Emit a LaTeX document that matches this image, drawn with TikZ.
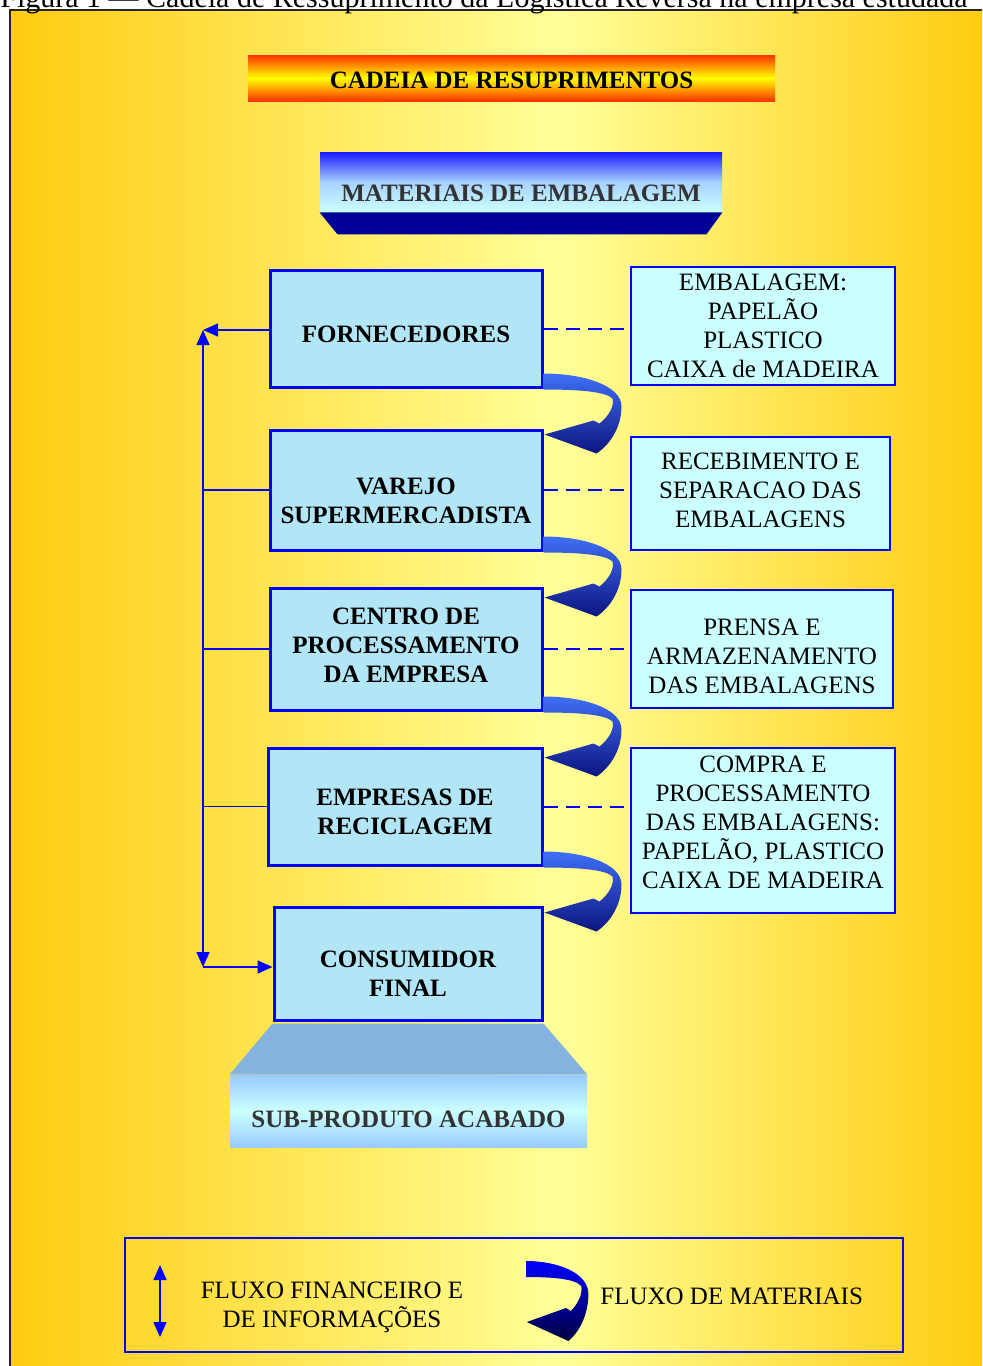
\documentclass[tikz,border=0pt]{standalone}
\usepackage{fontspec}
\setmainfont{Liberation Serif}
\usetikzlibrary{positioning,arrows.meta,calc,shadows}
\definecolor{frameo}{HTML}{FFCC11}
\definecolor{framey}{HTML}{FFFF99}
\definecolor{bord}{HTML}{0000FF}
\definecolor{boxfill}{HTML}{B2E6F6}
\definecolor{sidefill}{HTML}{CCFFFF}
\definecolor{titred}{HTML}{FF3300}
\definecolor{titylw}{HTML}{FFFF00}
\definecolor{matblu}{HTML}{1A1AFF}
\definecolor{matcyan}{HTML}{CCFFFF}
\definecolor{matnavy}{HTML}{000099}
\definecolor{subtrap}{HTML}{86B2E0}
\definecolor{subblu}{HTML}{99CCFF}
\definecolor{flowtop}{HTML}{3F6FF6}
\definecolor{flowbot}{HTML}{0D1580}
\definecolor{legtop}{HTML}{0000FF}
\definecolor{legbot}{HTML}{000040}
\definecolor{txtgray}{HTML}{333333}
\tikzset{
  mainblk/.style={draw=bord, line width=1.5pt, fill=boxfill, minimum width=136pt,
    drop shadow={fill=matnavy, shadow xshift=1pt, shadow yshift=-1pt, opacity=1}},
  sideblk/.style={draw=bord, line width=1pt, fill=sidefill},
  mlbl/.style={font=\fontsize{12.5}{14.5}\selectfont\bfseries, align=center, inner sep=0pt},
  slbl/.style={font=\fontsize{12.5}{14.5}\selectfont, align=center, inner sep=0pt},
  banner/.style={top color=titred, bottom color=titred, middle color=titylw, inner sep=0pt,
    minimum width=263.5pt, minimum height=23pt},
  matblk/.style={top color=matblu, bottom color=matcyan, middle color=matcyan!80!matblu,
    inner sep=0pt, minimum width=201pt, minimum height=30pt},
  subblk/.style={top color=subblu, bottom color=subblu, middle color=matcyan,
    inner sep=0pt, minimum width=178.5pt, minimum height=36pt},
  fintip/.tip={Triangle[length=7.5pt,width=6.5pt]},
  arr/.style={-fintip, bord, line width=0.8pt},
  finln/.style={bord, line width=0.8pt},
  dashln/.style={bord, line width=1pt, dash pattern=on 7pt off 4pt},
  mfshade/.style={top color=flowtop, bottom color=flowbot},
  pics/matflow/.style={code={
    \shade[mfshade] (0,0) .. controls (40,0) and (78,12) .. (78,33)
      .. controls (78,52) and (68,70) .. (53,80) -- (1,61) -- (50,47) -- (56,50)
      .. controls (66,42) and (71,32) .. (69,25) .. controls (62,18) and (35,16) .. (0,16) -- cycle;
  }},
}
\begin{document}
\begin{tikzpicture}[x=0.5pt, y=-0.5pt]
  \useasboundingbox (0,0) rectangle (982,1366);
  \clip (0,0) rectangle (982,1366);
  % background and frame
  \fill[white] (0,0) rectangle (982,1366);
  \shade[left color=frameo, right color=framey] (10,10) rectangle (560,1366);
  \shade[left color=framey, right color=frameo] (560,10) rectangle (982,1366);
  \draw[line width=1pt, black!85] (10,1366) -- (10,10) -- (982,10);
  \node[anchor=base west, inner sep=0pt, font=\fontsize{15}{17}\selectfont] (cap) at (0,7)
    {Figura 1 — Cadeia de Ressuprimento da Logística Reversa na empresa estudada};

  % headings
  \node[banner, label={[mlbl, yshift=-1.25pt]center:CADEIA DE RESUPRIMENTOS}] (tit) at (511.5,78) {};
  \node[matblk, label={[mlbl, text=txtgray, yshift=-5.65pt]center:MATERIAIS DE EMBALAGEM}] (mat) at (521,182) {};
  \fill[matnavy] (mat.south west) -- (mat.south east) -- ++(-16,22) -- ($(mat.south west)+(18,22)$) -- cycle;

  % chain
  \node[mainblk, minimum height=58.5pt, label={[mlbl, yshift=-2.75pt]center:FORNECEDORES}] (forn) at (406,328.5) {};
  \node[mainblk, minimum height=60pt, label={[mlbl, yshift=-5.5pt]center:{VAREJO\\SUPERMERCADISTA}}] (var) at (406,490) {};
  \node[mainblk, minimum height=61pt, label={[mlbl, yshift=2pt]center:{CENTRO DE\\PROCESSAMENTO\\DA EMPRESA}}] (cen) at (406,649) {};
  \node[mainblk, minimum width=137pt, minimum height=58.5pt, label={[mlbl, yshift=-2.5pt]center:{EMPRESAS DE\\RECICLAGEM}}] (rec) at (405,806.5) {};
  \node[mainblk, minimum width=134pt, minimum height=56.5pt, label={[mlbl, yshift=-5.25pt]center:{CONSUMIDOR\\FINAL}}] (cons) at (408,963.5) {};

  \node[subblk, label={[mlbl, text=txtgray, yshift=-4pt]center:SUB-PRODUTO ACABADO}] (sub) at (408.5,1111) {};
  \fill[subtrap] ($(cons.south west)+(0,2)$) -- ($(cons.south east)+(0,2)$) -- (sub.north east) -- (sub.north west) -- cycle;

  % activities
  \node[sideblk, minimum width=132pt, minimum height=59pt, label={[slbl]center:{EMBALAGEM:\\PAPELÃO\\PLASTICO\\CAIXA de MADEIRA}}] (emb) at (763,326) {};
  \node[sideblk, minimum width=129.5pt, minimum height=56.5pt, label={[slbl, yshift=1.5pt]center:{RECEBIMENTO E\\SEPARACAO DAS\\EMBALAGENS}}] (rcb) at (760.5,493.5) {};
  \node[sideblk, minimum width=131pt, minimum height=59pt, label={[slbl, yshift=-3.75pt]center:{PRENSA E\\ARMAZENAMENTO\\DAS EMBALAGENS}}] (pre) at (762,649) {};
  \node[sideblk, minimum width=132pt, minimum height=82.5pt, label={[slbl, yshift=4pt]center:{COMPRA E\\PROCESSAMENTO\\DAS EMBALAGENS:\\PAPELÃO, PLASTICO\\CAIXA DE MADEIRA}}] (com) at (763,830.5) {};

  \foreach \a/\b in {forn/emb, var/rcb, cen/pre, rec/com}
    \draw[dashln] (\a.east) -- (\a.east -| \b.west);
  \foreach \a/\b in {forn/var, var/cen, cen/rec, rec/cons}
    \pic at ($(\a.south east)+(0,-15)$) {matflow};

  % money and information
  \coordinate (tl) at (203,330);
  \coordinate (bl) at (203,967);
  \draw[arr, fintip-fintip] (tl) -- (bl);
  \draw[arr] (forn.west |- tl) -- (tl);
  \draw[arr] (bl) -- (cons.west |- bl);
  \foreach \a in {var, cen, rec}
    \draw[finln] (\a.west) -- (\a.west -| tl);

  % legend
  \node[draw=bord, line width=1pt, minimum width=389pt, minimum height=57pt] (leg) at (514,1295) {};
  \coordinate (lgt) at (160,1265);
  \coordinate (lgb) at (160,1337);
  \draw[arr, fintip-fintip] (lgt) -- (lgb);
  \node[slbl] (lgfin) at (332,1307) {FLUXO FINANCEIRO E\\DE INFORMAÇÕES};
  \pic[xscale=0.8, mfshade/.style={top color=legtop, bottom color=legbot}] at (526,1261) {matflow};
  \node[slbl, anchor=west] (lgmat) at (600,1296) {FLUXO DE MATERIAIS};
\end{tikzpicture}
\end{document}
